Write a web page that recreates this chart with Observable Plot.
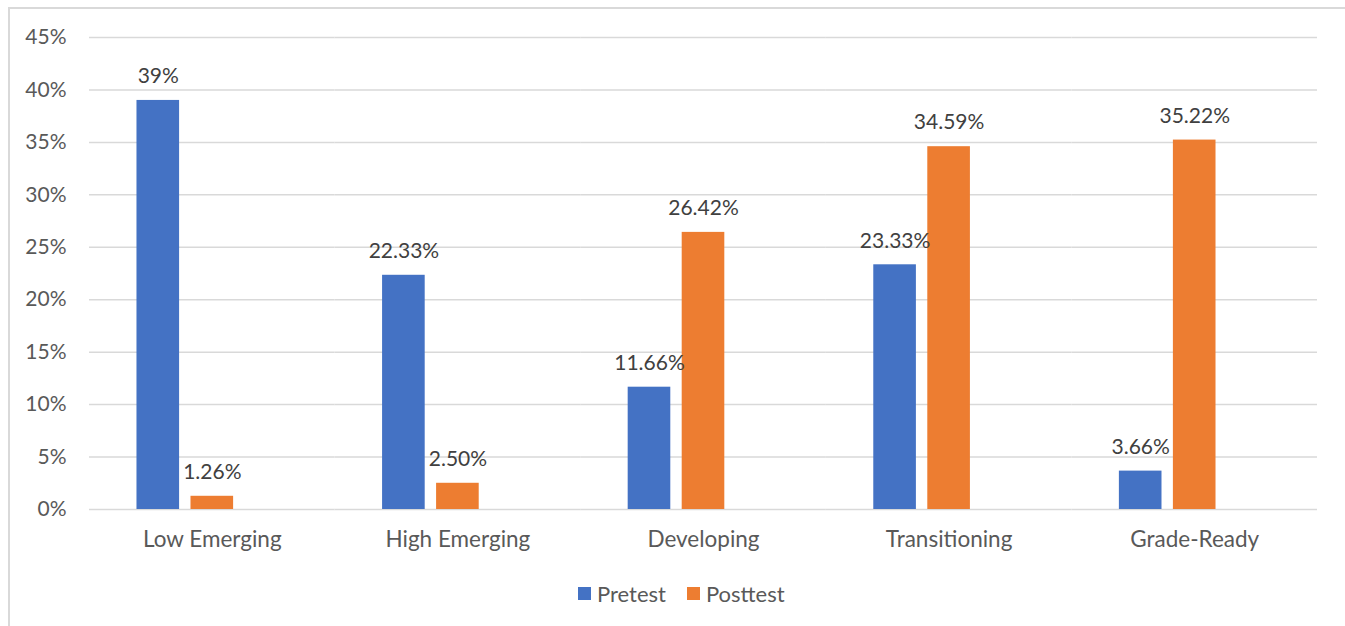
<!DOCTYPE html>
<html>
<head>
<meta charset="utf-8">
<script src="https://cdn.jsdelivr.net/npm/d3@7"></script>
<script src="https://cdn.jsdelivr.net/npm/@observablehq/plot@0.6"></script>
<style>
  html, body { margin: 0; padding: 0; background: #fff; }
  body { width: 1345px; height: 626px; position: relative; overflow: hidden; font-family: Lato, "Open Sans", sans-serif; }
  #frame { position: absolute; left: 8px; top: 7px; width: 1400px; height: 700px; border-left: 2px solid #d9d9d9; border-top: 2px solid #d9d9d9; box-sizing: border-box; }
  #chart { position: absolute; left: 0; top: 0; }
  #legend { position: absolute; left: 578px; top: 580px; display: flex; align-items: center; font-size: 22px; color: #595959; }
  .item { display: flex; align-items: center; margin-right: 21px; }
  .sw { width: 13px; height: 13px; margin-right: 6px; }
  #chart svg g[aria-label="fx-axis tick label"] text { font-size: 22.5px; }
</style>
</head>
<body>
<div id="frame"></div>
<div id="chart"></div>
<div id="legend"></div>
<script>
const categories = ["Low Emerging", "High Emerging", "Developing", "Transitioning", "Grade-Ready"];
const seriesNames = ["Pretest", "Posttest"];
const pretest = [39, 22.33, 11.66, 23.33, 3.66];
const posttest = [1.26, 2.50, 26.42, 34.59, 35.22];
const pretestLabels = ["39%", "22.33%", "11.66%", "23.33%", "3.66%"];
const posttestLabels = ["1.26%", "2.50%", "26.42%", "34.59%", "35.22%"];
const colors = ["#4472C4", "#ED7D31"];

const data = [];
categories.forEach((c, i) => {
  data.push({category: c, series: "Pretest", value: pretest[i] / 100, label: pretestLabels[i]});
  data.push({category: c, series: "Posttest", value: posttest[i] / 100, label: posttestLabels[i]});
});

const chart = Plot.plot({
  width: 1345,
  height: 565,
  marginLeft: 89,
  marginRight: 28,
  marginTop: 37,
  marginBottom: 56,
  style: {fontFamily: "Lato, 'Open Sans', sans-serif", fontSize: "21px", color: "#595959", background: "transparent", overflow: "visible"},
  fx: {domain: categories, padding: 0, round: false, label: null, axis: "bottom", tickSize: 0, tickPadding: 22},
  x: {domain: ["Pretest", "Posttest", "_"], paddingInner: 0.211, paddingOuter: 0.879, round: false, axis: null},
  y: {domain: [0, 0.45], ticks: d3.range(0, 0.4501, 0.05), tickFormat: d3.format(".0%"), tickSize: 0, tickPadding: 23, label: null, grid: false},
  color: {domain: seriesNames, range: colors},
  marks: [
    Plot.ruleY(d3.range(0, 0.4501, 0.05), {stroke: "#d9d9d9", strokeWidth: 1.5, strokeOpacity: 1}),
    Plot.barY(data, {fx: "category", x: "series", y: "value", fill: "series"}),
    Plot.text(data, {fx: "category", x: "series", y: "value", text: "label", dy: -24, fill: "#404040", fontSize: 21, textAnchor: "middle"})
  ]
});
document.getElementById("chart").appendChild(chart);

const legend = document.getElementById("legend");
seriesNames.forEach((s, i) => {
  const item = document.createElement("div");
  item.className = "item";
  const sw = document.createElement("div");
  sw.className = "sw";
  sw.style.background = colors[i];
  const t = document.createElement("span");
  t.textContent = s;
  item.appendChild(sw);
  item.appendChild(t);
  legend.appendChild(item);
});
</script>
</body>
</html>
